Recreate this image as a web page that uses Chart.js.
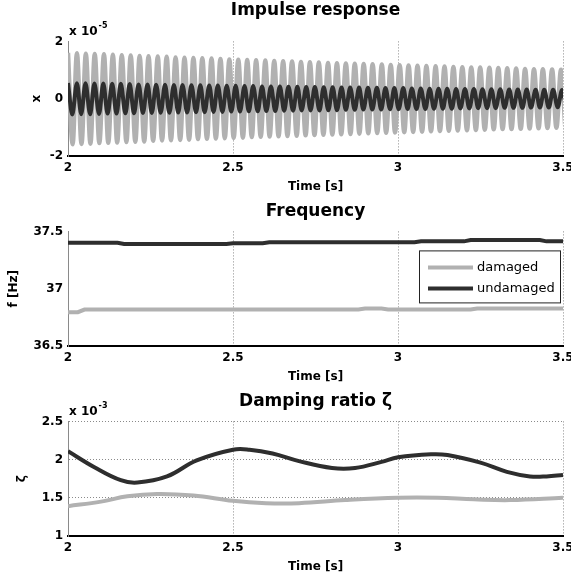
<!DOCTYPE html>
<html><head><meta charset="utf-8">
<script src="https://cdn.jsdelivr.net/npm/chart.js@4.4.0/dist/chart.umd.min.js"></script>
<style>
html,body{margin:0;padding:0;background:#fff;width:571px;height:576px;overflow:hidden;position:relative;}
.box{position:absolute;left:0;width:571px;height:196px;}
</style></head><body>
<div class="box" style="top:0px"><canvas id="c1"></canvas></div>
<div class="box" style="top:190px"><canvas id="c2"></canvas></div>
<div class="box" style="top:380px"><canvas id="c3"></canvas></div>
<script>
// ---------- data ----------
const seriesNames = ['damaged', 'undamaged'];
const xTicks = [2, 2.5, 3, 3.5];

// Impulse response (x 1e-5): successive extrema
const damagedImpulseTimes = [2.000,2.014,2.027,2.041,2.054,2.068,2.081,2.095,2.109,2.122,2.136,2.149,2.163,2.177,2.190,2.204,2.217,2.231,2.244,2.258,2.272,2.285,2.299,2.312,2.326,2.340,2.353,2.367,2.380,2.394,2.407,2.421,2.435,2.448,2.462,2.475,2.489,2.502,2.516,2.530,2.543,2.557,2.570,2.584,2.598,2.611,2.625,2.638,2.652,2.665,2.679,2.693,2.706,2.720,2.733,2.747,2.760,2.774,2.788,2.801,2.815,2.828,2.842,2.856,2.869,2.883,2.896,2.910,2.923,2.937,2.951,2.964,2.978,2.991,3.005,3.019,3.032,3.046,3.059,3.073,3.086,3.100,3.114,3.127,3.141,3.154,3.168,3.181,3.195,3.209,3.222,3.236,3.249,3.263,3.277,3.290,3.304,3.317,3.331,3.344,3.358,3.372,3.385,3.399,3.412,3.426,3.439,3.453,3.467,3.480,3.494,3.507];
const damagedImpulse = [1.60,-1.59,1.59,-1.58,1.57,-1.57,1.56,-1.55,1.55,-1.54,1.53,
 -1.53,1.52,-1.51,1.51,-1.50,1.49,-1.49,1.48,-1.47,1.47,
 -1.46,1.46,-1.45,1.44,-1.44,1.43,-1.43,1.42,-1.41,1.41,
 -1.40,1.40,-1.39,1.39,-1.38,1.37,-1.37,1.36,-1.36,1.35,
 -1.34,1.34,-1.33,1.33,-1.32,1.32,-1.31,1.31,-1.30,1.30,
 -1.29,1.28,-1.28,1.27,-1.27,1.26,-1.26,1.25,-1.25,1.24,
 -1.24,1.23,-1.23,1.22,-1.22,1.21,-1.21,1.20,-1.20,1.19,
 -1.19,1.18,-1.18,1.17,-1.17,1.16,-1.16,1.15,-1.15,1.14,
 -1.14,1.13,-1.13,1.12,-1.12,1.11,-1.11,1.10,-1.10,1.09,
 -1.09,1.09,-1.08,1.08,-1.07,1.07,-1.06,1.06,-1.06,1.05,
 -1.05,1.04,-1.04,1.03,-1.03,1.03,-1.02,1.02,-1.01,1.01,-1.00];
const undamagedImpulseTimes = [2.000,2.013,2.027,2.040,2.053,2.067,2.080,2.094,2.107,2.120,2.134,2.147,2.160,2.174,2.187,2.200,2.214,2.227,2.241,2.254,2.267,2.281,2.294,2.307,2.321,2.334,2.347,2.361,2.374,2.388,2.401,2.414,2.428,2.441,2.454,2.468,2.481,2.495,2.508,2.521,2.535,2.548,2.561,2.575,2.588,2.601,2.615,2.628,2.642,2.655,2.668,2.682,2.695,2.708,2.722,2.735,2.748,2.762,2.775,2.789,2.802,2.815,2.829,2.842,2.855,2.869,2.882,2.895,2.909,2.922,2.936,2.949,2.962,2.976,2.989,3.002,3.016,3.029,3.042,3.056,3.069,3.083,3.096,3.109,3.123,3.136,3.149,3.163,3.176,3.189,3.203,3.216,3.230,3.243,3.256,3.270,3.283,3.296,3.310,3.323,3.337,3.350,3.363,3.377,3.390,3.403,3.417,3.430,3.443,3.457,3.470,3.484,3.497,3.510];
const undamagedImpulse = [0.55,-0.55,0.54,-0.54,0.54,-0.54,0.53,-0.53,0.53,-0.52,0.52,
 -0.52,0.52,-0.51,0.51,-0.51,0.50,-0.50,0.50,-0.50,0.49,
 -0.49,0.49,-0.49,0.48,-0.48,0.48,-0.48,0.47,-0.47,0.47,
 -0.47,0.46,-0.46,0.46,-0.46,0.45,-0.45,0.45,-0.45,0.44,
 -0.44,0.44,-0.44,0.43,-0.43,0.43,-0.43,0.43,-0.42,0.42,
 -0.42,0.42,-0.41,0.41,-0.41,0.41,-0.41,0.40,-0.40,0.40,
 -0.40,0.39,-0.39,0.39,-0.39,0.39,-0.38,0.38,-0.38,0.38,
 -0.38,0.37,-0.37,0.37,-0.37,0.37,-0.36,0.36,-0.36,0.36,
 -0.36,0.35,-0.35,0.35,-0.35,0.35,-0.35,0.34,-0.34,0.34,
 -0.34,0.34,-0.33,0.33,-0.33,0.33,-0.33,0.33,-0.32,0.32,
 -0.32,0.32,-0.32,0.32,-0.31,0.31,-0.31,0.31,-0.31,0.31,-0.30,0.30,-0.30];
const impulseTicks = [-2, 0, 2];

// Frequency [Hz]
const damagedFreqTimes = [2.00, 2.03, 2.05, 2.88, 2.90, 2.95, 2.97, 3.22, 3.24, 3.50];
const damagedFreq      = [36.795, 36.795, 36.818, 36.818, 36.827, 36.827, 36.818, 36.818, 36.827, 36.827];
const undamagedFreqTimes = [2.00, 2.15, 2.17, 2.48, 2.50, 2.59, 2.61, 3.05, 3.07, 3.20, 3.22, 3.43, 3.45, 3.50];
const undamagedFreq      = [37.400, 37.400, 37.390, 37.390, 37.396, 37.396, 37.405, 37.405, 37.413, 37.413, 37.425, 37.425, 37.413, 37.413];
const freqTicks = [36.5, 37, 37.5];

// Damping ratio (x 1e-3)
const damagedZetaTimes = [2.00, 2.10, 2.18, 2.27, 2.38, 2.50, 2.60, 2.70, 2.84, 3.00, 3.12, 3.23, 3.34, 3.50];
const damagedZeta      = [1.39, 1.45, 1.52, 1.55, 1.53, 1.46, 1.43, 1.43, 1.47, 1.50, 1.50, 1.48, 1.47, 1.50];
const undamagedZetaTimes = [2.00, 2.08, 2.16, 2.21, 2.30, 2.39, 2.50, 2.55, 2.62, 2.70, 2.80, 2.87, 2.95, 3.00, 3.10, 3.15, 3.25, 3.33, 3.40, 3.45, 3.50];
const undamagedZeta      = [2.11, 1.90, 1.73, 1.70, 1.78, 1.99, 2.13, 2.13, 2.08, 1.98, 1.89, 1.89, 1.97, 2.03, 2.07, 2.06, 1.96, 1.84, 1.78, 1.78, 1.80];
const zetaTicks = [1, 1.5, 2, 2.5];

// ---------- styling ----------
const LIGHT = '#b1b1b1';
const DARK = '#2e2e2e';
const TICKFONT = {family: 'DejaVu Sans', weight: 'bold', size: 12};
const TITLEFONT = {family: 'DejaVu Sans', weight: 'bold', size: 17};

function pairs(xs, ys) { return xs.map((x, i) => ({x: x, y: ys[i]})); }

function makeChart(id, cfg) {
  const yTickVals = cfg.yTicks;
  return new Chart(document.getElementById(id), {
    type: 'line',
    data: {datasets: cfg.datasets},
    options: {
      responsive: true, maintainAspectRatio: false, animation: false,
      events: [],
      layout: {padding: {left: 0, right: 8, top: 0, bottom: 0}},
      plugins: {
        legend: {display: false}, tooltip: {enabled: false},
        title: {display: true, fullSize: false, text: cfg.title, font: TITLEFONT, color: '#000',
                padding: cfg.titlePad}
      },
      scales: {
        x: {
          type: 'linear', min: 2, max: 3.5,
          afterBuildTicks: s => { s.ticks = xTicks.map(v => ({value: v})); },
          afterFit: s => { s.height = 40; s.paddingLeft = 0; s.paddingRight = 0; },
          ticks: {font: TICKFONT, color: '#000', padding: 5, maxRotation: 0, autoSkip: false,
                  callback: v => String(v)},
          grid: {drawTicks: false, lineWidth: 1,
                 color: c => (c.tick && c.tick.value === 2) ? 'rgba(0,0,0,0)' : '#8a8a8a'},
          border: {display: true, color: '#000', width: 2, dash: [1, 2]},
          title: {display: true, text: 'Time [s]', font: TICKFONT, color: '#000',
                  padding: {top: 0, bottom: 2}}
        },
        y: {
          type: 'linear', min: yTickVals[0], max: yTickVals[yTickVals.length - 1],
          afterBuildTicks: s => { s.ticks = yTickVals.map(v => ({value: v})); },
          afterFit: s => { s.width = 68; s.paddingTop = 0; s.paddingBottom = 0; },
          ticks: {font: TICKFONT, color: '#000', padding: 5, autoSkip: false,
                  callback: v => String(v)},
          grid: {display: cfg.yGrid, drawTicks: false, lineWidth: 1,
                 color: c => (c.tick && c.tick.value === yTickVals[0]) ? 'rgba(0,0,0,0)' : '#8a8a8a'},
          border: {display: true, color: '#8a8a8a', width: 1, dash: [1, 2]},
          title: {display: true, text: cfg.yTitle, font: TICKFONT, color: '#000',
                  padding: {top: cfg.yTitlePad, bottom: 0}}
        }
      }
    },
    plugins: cfg.plugins || []
  });
}

function exponentPlugin(exp) {
  return {
    id: 'exponent',
    afterDraw(chart) {
      const ctx = chart.ctx, a = chart.chartArea;
      ctx.save();
      ctx.fillStyle = '#000';
      ctx.textBaseline = 'alphabetic';
      ctx.font = 'bold 12px "DejaVu Sans"';
      ctx.fillText('x 10', a.left + 1, a.top - 6);
      const w = ctx.measureText('x 10').width;
      ctx.font = 'bold 8px "DejaVu Sans"';
      ctx.fillText(exp, a.left + 2 + w, a.top - 13);
      ctx.restore();
    }
  };
}

const legendPlugin = {
  id: 'boxLegend',
  afterDatasetsDraw(chart) {
    const ctx = chart.ctx, a = chart.chartArea;
    const bx = a.right - 144, by = a.top + 19, bw = 141, bh = 52;
    ctx.save();
    ctx.fillStyle = '#fff';
    ctx.fillRect(bx, by, bw, bh);
    ctx.strokeStyle = '#222';
    ctx.lineWidth = 1;
    ctx.strokeRect(bx + 0.5, by + 0.5, bw, bh);
    const items = [[seriesNames[0], LIGHT], [seriesNames[1], DARK]];
    ctx.font = '13px "DejaVu Sans"';
    ctx.textBaseline = 'middle';
    items.forEach((it, i) => {
      const y = by + 17 + i * 21;
      ctx.strokeStyle = it[1];
      ctx.lineWidth = 4;
      ctx.beginPath(); ctx.moveTo(bx + 9, y); ctx.lineTo(bx + 54, y); ctx.stroke();
      ctx.fillStyle = '#000';
      ctx.fillText(it[0], bx + 58, y);
    });
    ctx.restore();
  }
};

function ds(label, xs, ys, color, width, order, extra) {
  return Object.assign({label: label, data: pairs(xs, ys), borderColor: color, backgroundColor: color,
    borderWidth: width, pointRadius: 0, fill: false, order: order}, extra || {});
}

makeChart('c1', {
  title: 'Impulse response', titlePad: {top: 0, bottom: 21},
  yTicks: impulseTicks, yGrid: false, yTitle: 'x', yTitlePad: 30,
  datasets: [
    ds(seriesNames[0], damagedImpulseTimes, damagedImpulse, LIGHT, 4.5, 1, {cubicInterpolationMode: 'monotone'}),
    ds(seriesNames[1], undamagedImpulseTimes, undamagedImpulse, DARK, 4, 0, {cubicInterpolationMode: 'monotone'})
  ],
  plugins: [exponentPlugin('-5')]
});

makeChart('c2', {
  title: 'Frequency', titlePad: {top: 11, bottom: 10},
  yTicks: freqTicks, yGrid: false, yTitle: 'f [Hz]', yTitlePad: 7,
  datasets: [
    ds(seriesNames[0], damagedFreqTimes, damagedFreq, LIGHT, 4, 1),
    ds(seriesNames[1], undamagedFreqTimes, undamagedFreq, DARK, 4, 0)
  ],
  plugins: [legendPlugin]
});

makeChart('c3', {
  title: 'Damping ratio ζ', titlePad: {top: 11, bottom: 10},
  yTicks: zetaTicks, yGrid: true, yTitle: 'ζ', yTitlePad: 15,
  datasets: [
    ds(seriesNames[0], damagedZetaTimes, damagedZeta, LIGHT, 4, 1, {tension: 0.4}),
    ds(seriesNames[1], undamagedZetaTimes, undamagedZeta, DARK, 4, 0, {tension: 0.4})
  ],
  plugins: [exponentPlugin('-3')]
});
</script>
</body></html>
